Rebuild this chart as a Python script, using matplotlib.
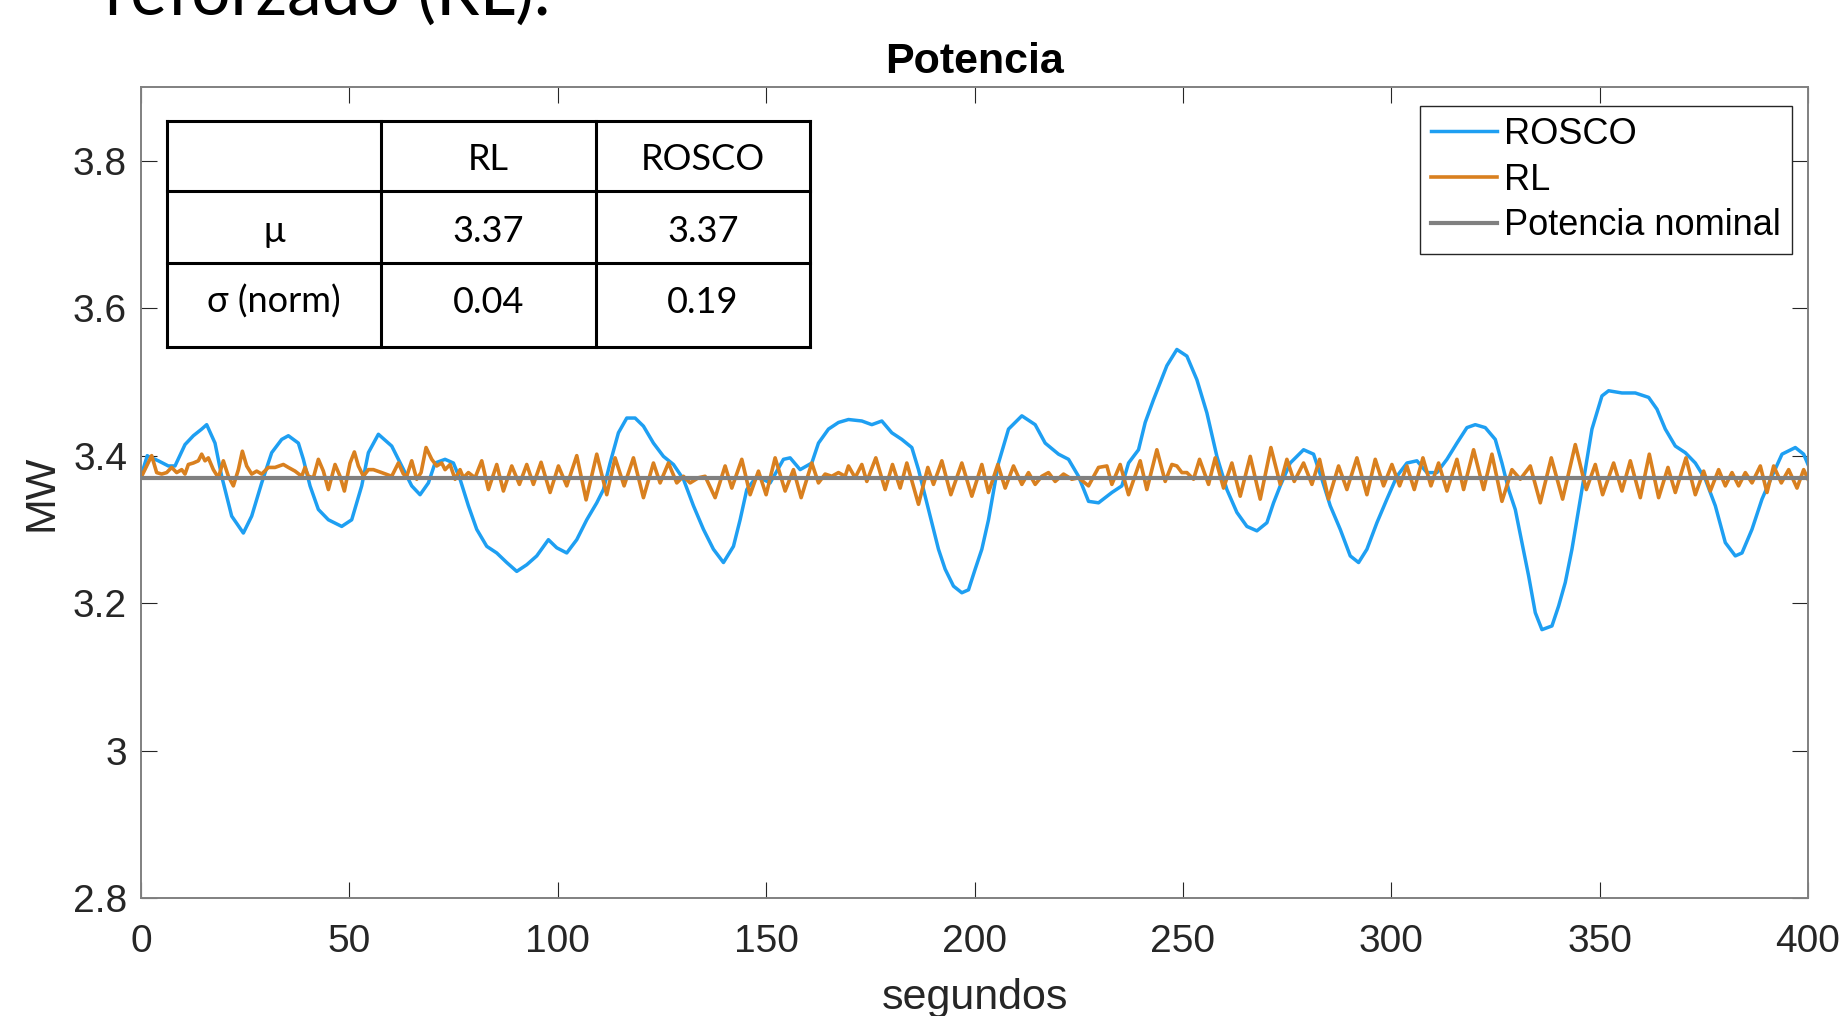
import matplotlib
matplotlib.use("Agg")
from matplotlib import pyplot as plt

# datos (segundos, MW)
rosco_t = [0, 1.5, 1.76, 4.16, 6.56, 8.16, 10.56, 12.56, 14.56, 15.76, 17.76, 19.36, 21.76, 24.56,
           26.56, 28.96, 31.36, 33.76, 35.36, 37.76, 38.96, 40.56, 42.56, 44.96, 48.16, 50.56,
           52.96, 54.56, 56.96, 60.16, 62.56, 64.96, 66.96, 68.96, 70.56, 72.96, 74.96, 76.56,
           78.56, 80.56, 82.96, 85.36, 87.76, 90.16, 92.56, 94.96, 97.76, 99.76, 102.16, 104.56,
           106.96, 109.36, 110.96, 112.56, 114.56, 116.56, 118.56, 120.56, 122.96, 125.36, 127.76,
           130.16, 132.56, 134.96, 137.36, 139.76, 142.16, 143.76, 145.36, 147.76, 150.96, 154.16,
           155.76, 158.16, 160.96, 162.56, 164.96, 167.36, 169.76, 172.96, 175.36, 177.76, 180.16,
           182.56, 184.96, 186.56, 188.16, 189.76, 191.36, 192.96, 194.96, 196.96, 198.56, 200.16,
           201.76, 203.36, 205.76, 208.16, 211.36, 214.56, 216.96, 220.16, 222.56, 224.96, 227.36,
           229.76, 232.96, 235.36, 236.96, 239.36, 240.96, 242.96, 244.56, 246.16, 248.56, 250.96,
           253.36, 255.76, 258.16, 260.56, 262.96, 265.36, 267.76, 270.16, 271.76, 273.36, 275.76,
           278.96, 281.36, 283.36, 285.36, 287.76, 290.16, 292.16, 294.16, 296.56, 298.96, 301.36,
           303.76, 306.16, 308.56, 310.96, 313.36, 315.76, 318.16, 320.16, 322.56, 324.96, 326.56,
           328.16, 329.76, 331.36, 332.96, 334.56, 336.16, 338.56, 340.16, 341.76, 343.36, 344.96,
           346.56, 348.16, 350.56, 352.16, 355.36, 358.56, 361.76, 363.76, 365.76, 368.16, 370.56,
           372.96, 375.36, 377.76, 380.16, 382.56, 384.16, 386.56, 388.96, 391.36, 393.76, 396.96,
           398.96, 400]
rosco_v = [3.372, 3.400, 3.399, 3.393, 3.386, 3.386, 3.415, 3.427, 3.436, 3.442, 3.417, 3.372, 3.318, 3.295,
           3.318, 3.363, 3.404, 3.422, 3.427, 3.417, 3.395, 3.359, 3.327, 3.313, 3.304, 3.313,
           3.359, 3.404, 3.429, 3.413, 3.386, 3.359, 3.347, 3.363, 3.390, 3.395, 3.390, 3.368,
           3.332, 3.300, 3.277, 3.268, 3.255, 3.243, 3.252, 3.264, 3.286, 3.275, 3.268, 3.286,
           3.313, 3.336, 3.354, 3.390, 3.431, 3.451, 3.451, 3.440, 3.417, 3.399, 3.388,
           3.368, 3.332, 3.300, 3.273, 3.255, 3.277, 3.313, 3.354, 3.372, 3.363, 3.395,
           3.397, 3.381, 3.390, 3.417, 3.436, 3.445, 3.449, 3.447, 3.442, 3.447, 3.431,
           3.422, 3.411, 3.381, 3.345, 3.309, 3.273, 3.246, 3.223, 3.214, 3.218, 3.246,
           3.273, 3.313, 3.390, 3.436, 3.454, 3.442, 3.417, 3.402, 3.395, 3.372, 3.338,
           3.336, 3.350, 3.359, 3.390, 3.408, 3.445, 3.476, 3.499, 3.522, 3.544, 3.535,
           3.503, 3.458, 3.399, 3.354, 3.323, 3.304, 3.298, 3.309, 3.336, 3.359, 3.390,
           3.408, 3.402, 3.368, 3.332, 3.300, 3.264, 3.255, 3.273, 3.309, 3.341, 3.372,
           3.390, 3.393, 3.377, 3.377, 3.395, 3.417, 3.438, 3.442, 3.438, 3.422, 3.390,
           3.354, 3.327, 3.282, 3.237, 3.187, 3.164, 3.169, 3.196, 3.228, 3.273, 3.327,
           3.381, 3.436, 3.481, 3.488, 3.485, 3.485, 3.479, 3.463, 3.436, 3.413, 3.404,
           3.390, 3.368, 3.332, 3.282, 3.264, 3.268, 3.300, 3.341, 3.372, 3.402, 3.411,
           3.402, 3.388]

rl_t = [0.16, 2.56, 3.76, 4.96, 6.16, 7.36, 8.56, 9.76, 10.56, 11.36, 12.56, 13.76, 14.56, 15.36,
        16.16, 17.36, 18.56, 19.76, 20.96, 22.16, 23.36, 24.32, 25.36, 26.56, 27.76, 28.96, 30.56,
        32.16, 34.16, 35.36, 36.96, 38.56, 39.36, 40.16, 41.36, 42.56, 43.76, 44.96, 46.56, 47.76,
        48.8, 50.16, 51.2, 52.16, 53.36, 54.56, 55.76, 57.76, 60.16, 61.76, 62.96, 63.76, 64.96,
        66.16, 67.2, 68.4, 69.76, 70.96, 72.16, 72.96, 74.16, 75.36, 76.56, 77.36, 78.56, 80.16,
        81.76, 83.36, 85.36, 86.96, 88.96, 90.8, 92.56, 94.16, 96.0, 98.16, 100.16, 102.16, 104.56,
        106.8, 109.36, 111.76, 113.76, 115.92, 118.16, 120.56, 122.96, 124.56, 126.56, 128.56,
        130.16, 131.76, 133.76, 135.36, 137.76, 140.16, 141.76, 144.16, 146.16, 148.16, 150.0,
        152.16, 154.56, 156.56, 158.4, 160.96, 162.56, 164.16, 165.76, 167.36, 168.96, 169.76,
        171.36, 172.96, 174.16, 176.32, 178.56, 180.32, 182.16, 183.76, 186.56, 188.8, 190.16,
        192.16, 194.32, 196.96, 199.36, 201.76, 203.36, 205.6, 207.36, 209.36, 211.36, 212.96,
        214.56, 216.16, 217.76, 219.36, 221.36, 223.36, 224.96, 227.36, 229.76, 231.76, 232.96,
        234.96, 236.96, 239.76, 241.36, 243.76, 245.76, 247.36, 248.56, 249.76, 250.96, 252.56,
        254.0, 256.16, 257.76, 259.76, 261.76, 263.76, 266.16, 268.56, 271.12, 273.36, 274.96,
        276.72, 278.96, 280.96, 282.8, 284.96, 287.36, 289.36, 291.76, 294.16, 296.16, 298.16,
        300.16, 302.0, 303.76, 305.52, 307.6, 309.52, 311.36, 313.36, 315.76, 317.36, 319.76,
        322.16, 324.16, 326.56, 328.96, 330.96, 333.36, 335.76, 338.4, 341.12, 344.16, 346.8,
        348.96, 350.72, 353.36, 355.36, 357.36, 359.76, 361.92, 364.16, 366.4, 368.16, 370.72,
        372.96, 374.96, 376.56, 378.56, 380.16, 381.76, 383.36, 384.96, 386.56, 388.56, 390.16,
        391.76, 393.6, 395.36, 397.36, 398.96, 400]
rl_v = [3.372, 3.400, 3.377, 3.375, 3.377, 3.384, 3.377, 3.381, 3.375, 3.388, 3.390, 3.393, 3.402, 3.393,
        3.397, 3.381, 3.370, 3.393, 3.372, 3.359, 3.381, 3.406, 3.386, 3.375, 3.379, 3.375, 3.384,
        3.384, 3.388, 3.384, 3.379, 3.372, 3.384, 3.372, 3.370, 3.395, 3.379, 3.354, 3.388, 3.372,
        3.352, 3.390, 3.405, 3.386, 3.372, 3.381, 3.381, 3.377, 3.372, 3.390, 3.375, 3.372, 3.393,
        3.368, 3.377, 3.411, 3.395, 3.386, 3.390, 3.381, 3.388, 3.368, 3.381, 3.370, 3.377, 3.370,
        3.393, 3.354, 3.388, 3.352, 3.386, 3.361, 3.388, 3.361, 3.391, 3.350, 3.386, 3.359, 3.400,
        3.340, 3.402, 3.347, 3.397, 3.359, 3.397, 3.343, 3.390, 3.363, 3.390, 3.363,
        3.372, 3.363, 3.370, 3.372, 3.343, 3.386, 3.356, 3.395, 3.347, 3.379, 3.347,
        3.397, 3.352, 3.381, 3.343, 3.390, 3.363, 3.375, 3.372, 3.377, 3.372, 3.386,
        3.370, 3.388, 3.365, 3.397, 3.354, 3.388, 3.356, 3.390, 3.334, 3.384, 3.361,
        3.393, 3.347, 3.390, 3.345, 3.388, 3.350, 3.388, 3.356, 3.386, 3.361, 3.377,
        3.361, 3.372, 3.377, 3.365, 3.375, 3.368, 3.370, 3.359, 3.384, 3.386, 3.361,
        3.388, 3.347, 3.393, 3.354, 3.408, 3.365, 3.388, 3.386, 3.377, 3.377, 3.368,
        3.395, 3.361, 3.397, 3.356, 3.390, 3.345, 3.399, 3.341, 3.411, 3.361, 3.395,
        3.365, 3.390, 3.361, 3.395, 3.341, 3.386, 3.354, 3.397, 3.347, 3.395, 3.359,
        3.388, 3.359, 3.386, 3.354, 3.397, 3.359, 3.390, 3.352, 3.395, 3.354, 3.408,
        3.354, 3.402, 3.338, 3.381, 3.368, 3.386, 3.336, 3.397, 3.341, 3.415, 3.354,
        3.388, 3.347, 3.390, 3.352, 3.393, 3.343, 3.402, 3.343, 3.384, 3.350, 3.397,
        3.347, 3.379, 3.352, 3.381, 3.359, 3.377, 3.359, 3.377, 3.363, 3.386, 3.350,
        3.386, 3.363, 3.381, 3.356, 3.381, 3.368]

nominal_t = [0, 400]
nominal_v = [3.37, 3.37]

series_names = ["ROSCO", "RL", "Potencia nominal"]

table_header = ["", "RL", "ROSCO"]
table_body = [["μ", "3.37", "3.37"],
              ["σ (norm)", "0.04", "0.19"]]

W, H = 1846, 1016
fig = plt.figure(figsize=(W / 100, H / 100), dpi=100)

# texto de la diapositiva, cortado arriba (como en la captura)
fig.text(105 / W, 1 - 15 / H, "reforzado (RL).", fontsize=50, family="Lato",
         va="baseline", ha="left", color="black")

ax = fig.add_axes([141 / W, 1 - 898 / H, (1808 - 141) / W, (898 - 87) / H])
ax.plot(rosco_t, rosco_v, color="#1E9FF2", lw=2.5, label=series_names[0])
ax.plot(rl_t, rl_v, color="#D9801F", lw=2.6, label=series_names[1])
ax.plot(nominal_t, nominal_v, color="#808080", lw=3.0, label=series_names[2])

ax.set_xlim(0, 400)
ax.set_ylim(2.8, 3.9)
ax.set_xticks(range(0, 401, 50))
ax.set_yticks([2.8, 3.0, 3.2, 3.4, 3.6, 3.8])
ax.set_yticklabels(["2.8", "3", "3.2", "3.4", "3.6", "3.8"])
ax.tick_params(direction="in", length=11.5, width=0.8, color="#262626",
               top=True, right=True, labelsize=28, labelcolor="#262626")
ax.tick_params(axis="x", pad=19)
ax.tick_params(axis="y", pad=10)
for lbl in ax.get_xticklabels() + ax.get_yticklabels():
    lbl.set_family("Liberation Sans")
for s in ax.spines.values():
    s.set_color("#808080")
    s.set_linewidth(1.4)

ax.set_title("Potencia", fontsize=31, fontweight="bold", family="Liberation Sans",
             pad=10, color="black")
ax.set_xlabel("segundos", fontsize=31, family="Liberation Sans", labelpad=13, color="#262626")
ax.set_ylabel("MW", fontsize=31, family="Liberation Sans", labelpad=8, color="#262626")

leg = ax.legend(loc="upper right", bbox_to_anchor=(1792 / W, 1 - 106 / H),
                bbox_transform=fig.transFigure, fancybox=False, framealpha=1,
                edgecolor="#262626", borderaxespad=0, borderpad=0.3,
                handlelength=1.83, handletextpad=0.2, labelspacing=0.3,
                prop={"family": "Liberation Sans", "size": 26})
leg.get_frame().set_linewidth(1.0)

# tabla pegada encima
tx = [167, 381, 596, 810]
ty = [121, 191, 263, 347]
row_shift = [4, 4, -3]
tax = fig.add_axes([tx[0] / W, 1 - ty[-1] / H, (tx[-1] - tx[0]) / W, (ty[-1] - ty[0]) / H])
tax.set_xlim(tx[0], tx[-1])
tax.set_ylim(ty[-1], ty[0])
tax.axis("off")
tax.fill_between([tx[0], tx[-1]], ty[0], ty[-1], color="white", zorder=0)
for x in tx:
    tax.plot([x, x], [ty[0], ty[-1]], color="black", lw=2.2, solid_capstyle="projecting", clip_on=False)
for y in ty:
    tax.plot([tx[0], tx[-1]], [y, y], color="black", lw=2.2, solid_capstyle="projecting", clip_on=False)
rows = [table_header] + table_body
for i, row in enumerate(rows):
    yc = (ty[i] + ty[i + 1]) / 2 + row_shift[i]
    for j, txt in enumerate(row):
        xc = (tx[j] + tx[j + 1]) / 2
        tax.text(xc, yc, txt, ha="center", va="center", fontsize=26, family="Lato",
                 color="black")

fig.savefig("out.png", dpi=100, facecolor="white")
